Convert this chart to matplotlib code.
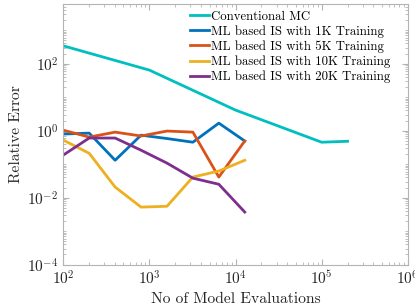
import numpy as np
import matplotlib
matplotlib.use('Agg')
import matplotlib.pyplot as plt
from matplotlib.ticker import LogLocator, NullFormatter

plt.rcParams['font.family'] = 'serif'
plt.rcParams['font.serif'] = ['cmr10']
plt.rcParams['mathtext.fontset'] = 'cm'
plt.rcParams['axes.formatter.use_mathtext'] = True

# data
mc_evals = [1e2, 1e3, 1e4, 1e5, 2e5]
mc_err = [340, 64, 4.1, 0.45, 0.48]

ml_evals = [100, 200, 400, 800, 1600, 3200, 6400, 12800]
err_1k = [0.79, 0.84, 0.13, 0.73, 0.58, 0.45, 1.67, 0.49]
err_5k = [1.03, 0.64, 0.90, 0.69, 0.97, 0.90, 0.041, 0.49]
err_10k = [0.52, 0.21, 0.0206, 0.0052, 0.0055, 0.041, 0.062, 0.13]
err_20k = [0.186, 0.60, 0.60, 0.26, 0.107, 0.038, 0.025, 0.0037]

labels = ['Conventional MC',
          'ML based IS with 1K Training',
          'ML based IS with 5K Training',
          'ML based IS with 10K Training',
          'ML based IS with 20K Training']
colors = ['#00BFBF', '#0072BD', '#D95319', '#EDB120', '#7E2F8E']

fig = plt.figure(figsize=(4.15, 3.08), dpi=100)
ax = fig.add_axes([0.1525, 0.141, 0.83, 0.846])

ax.loglog(mc_evals, mc_err, color=colors[0], lw=2, label=labels[0])
for ys, c, lab in zip([err_1k, err_5k, err_10k, err_20k], colors[1:], labels[1:]):
    ax.loglog(ml_evals, ys, color=c, lw=2, label=lab)

ax.set_xlim(1e2, 1e6)
ax.set_ylim(1e-4, 10**3.78)
ax.set_yticks([1e-4, 1e-2, 1e0, 1e2])
ax.set_xticks([1e2, 1e3, 1e4, 1e5, 1e6])
ax.yaxis.set_minor_locator(LogLocator(base=10, subs=np.arange(1, 10), numticks=50))
ax.yaxis.set_minor_formatter(NullFormatter())
ax.xaxis.set_minor_locator(LogLocator(base=10, subs=np.arange(2, 10), numticks=50))
ax.xaxis.set_minor_formatter(NullFormatter())

for s in ax.spines.values():
    s.set_color('#b4b4b4')
    s.set_linewidth(0.8)
ax.tick_params(which='both', direction='in', top=True, right=True,
               color='#b4b4b4', labelsize=11, labelcolor='#262626')
ax.tick_params(which='major', length=4)
ax.tick_params(which='minor', length=2)

ax.set_xlabel('No of Model Evaluations', fontsize=11.2, color='#262626', labelpad=3)
ax.set_ylabel('Relative Error', fontsize=11.2, color='#262626', labelpad=3)

ax.legend(loc='upper right', frameon=False, fontsize=9.2, handlelength=1.5,
          handletextpad=0.1, labelspacing=0.2, borderaxespad=0.1,
          bbox_to_anchor=(0.967, 1.0))

fig.savefig('out.png', dpi=100)
